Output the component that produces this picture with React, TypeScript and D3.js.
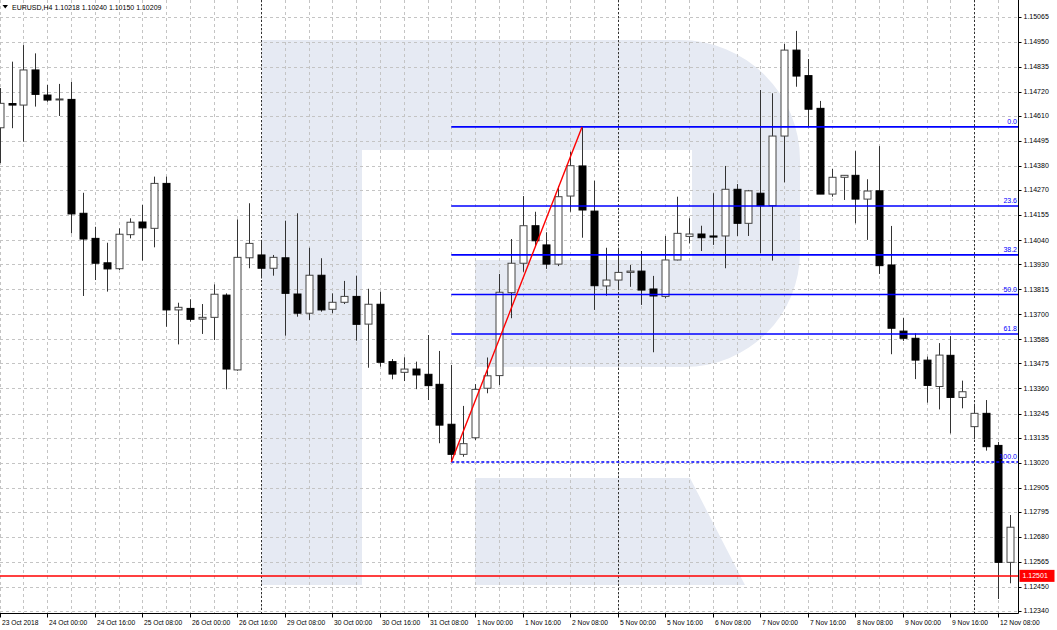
import React from 'react';
import * as d3 from 'd3';

const symbolTitle = 'EURUSD,H4  1.10218 1.10240 1.10150 1.10209';

const timeLabels = [
  '23 Oct 2018', '24 Oct 00:00', '24 Oct 16:00', '25 Oct 08:00', '26 Oct 00:00', '26 Oct 16:00',
  '29 Oct 08:00', '30 Oct 00:00', '30 Oct 16:00', '31 Oct 08:00', '1 Nov 00:00', '1 Nov 16:00',
  '2 Nov 08:00', '5 Nov 00:00', '5 Nov 16:00', '6 Nov 08:00', '7 Nov 00:00', '7 Nov 16:00',
  '8 Nov 08:00', '9 Nov 00:00', '9 Nov 16:00', '12 Nov 08:00',
];
const timeLabelBars = [0, 4, 8, 12, 16, 20, 24, 28, 32, 36, 40, 44, 48, 52, 56, 60, 64, 68, 72, 76, 80, 84];
const weekSeparatorBars = [22, 52, 82];

const priceTickLabels = [
  '1.15065', '1.14950', '1.14835', '1.14720', '1.14610', '1.14495', '1.14380', '1.14270', '1.14155',
  '1.14040', '1.13930', '1.13815', '1.13700', '1.13585', '1.13475', '1.13360', '1.13245', '1.13135',
  '1.13020', '1.12905', '1.12795', '1.12680', '1.12565', '1.12450', '1.12340',
];

const opens = [
  1.14555, 1.14666, 1.14659, 1.14820, 1.14705, 1.14685, 1.14685, 1.14163, 1.14048, 1.13936,
  1.13909, 1.14065, 1.14123, 1.14094, 1.14300, 1.13720, 1.13727, 1.13678, 1.13686, 1.13788,
  1.13445, 1.13959, 1.13972, 1.13911, 1.13959, 1.13793, 1.13705, 1.13879, 1.13723, 1.13755,
  1.13782, 1.13655, 1.13746, 1.13483, 1.13434, 1.13449, 1.13425, 1.13379, 1.13196, 1.13058,
  1.13134, 1.13361, 1.13419, 1.13799, 1.13934, 1.14106, 1.14018, 1.13930, 1.14242, 1.14380,
  1.14173, 1.13830, 1.13857, 1.13892, 1.13898, 1.13816, 1.13782, 1.13949, 1.14057, 1.14068,
  1.14059, 1.14059, 1.14273, 1.14117, 1.14255, 1.14198, 1.14517, 1.14911, 1.14794, 1.14644,
  1.14251, 1.14328, 1.14337, 1.14228, 1.14266, 1.13926, 1.13623, 1.13590, 1.13490, 1.13369,
  1.13512, 1.13319, 1.13185, 1.13246, 1.13099, 1.12563,
];
const highs = [
  1.14737, 1.14858, 1.14934, 1.14896, 1.14751, 1.14756, 1.14766, 1.14257, 1.14101, 1.14028,
  1.14094, 1.14140, 1.14201, 1.14331, 1.14331, 1.13753, 1.13769, 1.13747, 1.13837, 1.13796,
  1.14135, 1.14209, 1.14041, 1.13972, 1.14129, 1.14163, 1.14005, 1.13957, 1.13796, 1.13853,
  1.13877, 1.13817, 1.13804, 1.13495, 1.13503, 1.13483, 1.13605, 1.13532, 1.13468, 1.13280,
  1.13380, 1.13502, 1.13885, 1.14045, 1.14242, 1.14170, 1.14076, 1.14288, 1.14445, 1.14559,
  1.14312, 1.14005, 1.13995, 1.13926, 1.13990, 1.13876, 1.14059, 1.14239, 1.14140, 1.14106,
  1.14255, 1.14380, 1.14297, 1.14270, 1.14728, 1.14713, 1.14939, 1.14999, 1.14870, 1.14678,
  1.14366, 1.14337, 1.14448, 1.14319, 1.14471, 1.14105, 1.13684, 1.13613, 1.13506, 1.13568,
  1.13600, 1.13396, 1.13281, 1.13307, 1.13115, 1.12780,
];
const lows = [
  1.14393, 1.14553, 1.14491, 1.14652, 1.14674, 1.14609, 1.14071, 1.13784, 1.13857, 1.13804,
  1.13903, 1.14048, 1.13946, 1.14007, 1.13643, 1.13562, 1.13666, 1.13610, 1.13582, 1.13356,
  1.13441, 1.13911, 1.13865, 1.13877, 1.13602, 1.13689, 1.13674, 1.13712, 1.13705, 1.13747,
  1.13579, 1.13455, 1.13460, 1.13402, 1.13394, 1.13357, 1.13307, 1.13109, 1.13023, 1.13047,
  1.13124, 1.13338, 1.13376, 1.13682, 1.13895, 1.14010, 1.13908, 1.13921, 1.14170, 1.14051,
  1.13720, 1.13785, 1.13811, 1.13826, 1.13743, 1.13526, 1.13773, 1.13947, 1.14025, 1.13990,
  1.14018, 1.13911, 1.14059, 1.14059, 1.13980, 1.13946, 1.14305, 1.14743, 1.14560, 1.14251,
  1.14239, 1.14224, 1.14117, 1.14041, 1.13885, 1.13517, 1.13578, 1.13403, 1.13295, 1.13264,
  1.13154, 1.13269, 1.13128, 1.13075, 1.12395, 1.12467,
];
const closes = [
  1.14667, 1.14659, 1.14820, 1.14708, 1.14682, 1.14687, 1.14160, 1.14045, 1.13934, 1.13908,
  1.14067, 1.14122, 1.14096, 1.14300, 1.13720, 1.13732, 1.13677, 1.13686, 1.13792, 1.13449,
  1.13961, 1.14025, 1.13911, 1.13961, 1.13796, 1.13705, 1.13879, 1.13720, 1.13755, 1.13782,
  1.13654, 1.13746, 1.13480, 1.13426, 1.13449, 1.13422, 1.13373, 1.13192, 1.13058, 1.13107,
  1.13356, 1.13418, 1.13801, 1.13934, 1.14106, 1.14037, 1.13930, 1.14239, 1.14381, 1.14178,
  1.13831, 1.13857, 1.13892, 1.13898, 1.13811, 1.13784, 1.13949, 1.14071, 1.14068, 1.14051,
  1.14054, 1.14273, 1.14117, 1.14266, 1.14198, 1.14517, 1.14911, 1.14792, 1.14640, 1.14251,
  1.14328, 1.14337, 1.14228, 1.14265, 1.13923, 1.13636, 1.13590, 1.13490, 1.13374, 1.13513,
  1.13319, 1.13345, 1.13246, 1.13093, 1.12563, 1.12724,
];

const fibLevels = [0, 23.6, 38.2, 50, 61.8, 100];
const fibLevelLabels = ['0.0', '23.6', '38.2', '50.0', '61.8', '100.0'];
const fibHighPrice = 1.14559;
const fibLowPrice = 1.13023;
const fibLowBar = 38;
const fibHighBar = 49;
const horizontalLinePrice = 1.12501;
const horizontalLineLabel = '1.12501';

const FONT = '"Liberation Sans", Arial, sans-serif';

export default function App() {
  const W = 1057;
  const H = 630;
  const plotRight = 1018.5;
  const plotBottom = 613.5;

  const x = d3.scaleLinear().domain([0, 84]).range([-0.3, 998.0]);
  const y = d3.scaleLinear().domain([1.1234, 1.15065]).range([611, 16.5]);

  const bars = d3.range(opens.length).map((i) => ({
    i, o: opens[i], h: highs[i], l: lows[i], c: closes[i],
  }));
  const gridBars = d3.range(0, opens.length + 1, 2);
  const bodyW = 7;

  const fibPrice = (lvl: number) => fibHighPrice - (fibHighPrice - fibLowPrice) * (lvl / 100);

  const logo = 'M262 40 H362 V585 H262 Z ' +
    'M362 40 H680 A120 120 0 0 1 800 160 V252 A115 115 0 0 1 685 367 H475 V260 H692 V150 H362 Z ' +
    'M475 478 H690 L745 585 H475 Z';

  return (
    <svg width={W} height={H} style={{ position: 'absolute', left: 0, top: 0, background: '#fff' }}
      fontFamily={FONT}>
      <rect x={0} y={0} width={W} height={H} fill="#ffffff" />
      <defs>
        <clipPath id="plot">
          <rect x={0} y={0} width={plotRight} height={plotBottom} />
        </clipPath>
      </defs>
      <g clipPath="url(#plot)">
        <path d={logo} fill="#e6eaf3" />
        {priceTickLabels.map((t) => (
          <line key={'hg' + t} x1={0} x2={plotRight} y1={Math.round(y(+t)) + 0.5} y2={Math.round(y(+t)) + 0.5}
            stroke="#c4c4c4" strokeWidth={1} strokeDasharray="3,3" />
        ))}
        {gridBars.map((b) => (
          <line key={'vg' + b} x1={Math.round(x(b)) + 0.5} x2={Math.round(x(b)) + 0.5} y1={0} y2={plotBottom}
            stroke="#c4c4c4" strokeWidth={1} strokeDasharray="3,3" />
        ))}
        {weekSeparatorBars.map((b) => (
          <line key={'ws' + b} x1={Math.round(x(b)) + 0.5} x2={Math.round(x(b)) + 0.5} y1={0} y2={plotBottom}
            stroke="#333" strokeWidth={1} strokeDasharray="2,2" />
        ))}
        {bars.map((d) => {
          const cx = Math.round(x(d.i)) + 0.5;
          const bull = d.c >= d.o;
          const top = y(Math.max(d.o, d.c));
          const bot = y(Math.min(d.o, d.c));
          const hgt = Math.max(1, bot - top);
          return (
            <g key={'c' + d.i}>
              <line x1={cx} x2={cx} y1={y(d.h)} y2={y(d.l)} stroke="#333" strokeWidth={1} />
              <rect x={cx - bodyW / 2} y={top} width={bodyW} height={hgt}
                fill={bull ? '#ffffff' : '#000000'} stroke={bull ? '#444' : '#000'} strokeWidth={1} />
            </g>
          );
        })}
        {fibLevels.map((lvl, k) => {
          const yy = y(fibPrice(lvl));
          return (
            <g key={'fib' + lvl}>
              <line x1={x(fibLowBar)} x2={plotRight} y1={yy} y2={yy} stroke="#0000ff" strokeWidth={1.6}
                strokeDasharray={lvl === 100 ? '3,2' : undefined} />
              <text x={plotRight - 1.5} y={yy - 2.5} fontSize={7} fill="#0000ff" textAnchor="end">
                {fibLevelLabels[k]}
              </text>
            </g>
          );
        })}
        <line x1={x(fibLowBar)} y1={y(fibLowPrice)} x2={x(fibHighBar)} y2={y(fibHighPrice)}
          stroke="#ff0000" strokeWidth={1.4} />
        <line x1={0} x2={plotRight} y1={y(horizontalLinePrice)} y2={y(horizontalLinePrice)}
          stroke="#ff0000" strokeWidth={1.5} />
      </g>

      {/* axes */}
      <line x1={plotRight} x2={plotRight} y1={0} y2={plotBottom} stroke="#000" strokeWidth={1} />
      <line x1={0} x2={plotRight} y1={plotBottom} y2={plotBottom} stroke="#000" strokeWidth={1} />
      {priceTickLabels.map((t) => (
        <g key={'pt' + t}>
          <line x1={plotRight} x2={plotRight + 3} y1={Math.round(y(+t)) + 0.5} y2={Math.round(y(+t)) + 0.5}
            stroke="#000" strokeWidth={1} />
          <text x={plotRight + 5} y={y(+t)} dy="0.35em" fontSize={7} fill="#000">{t}</text>
        </g>
      ))}
      {timeLabels.map((t, k) => {
        const tx = Math.round(x(timeLabelBars[k])) + 0.5;
        return (
          <g key={'tl' + t}>
            <line x1={tx} x2={tx} y1={plotBottom} y2={plotBottom + 4} stroke="#000" strokeWidth={1} />
            <text x={tx + 1.5} y={624.5} fontSize={6.7} fill="#000">{t}</text>
          </g>
        );
      })}
      <rect x={plotRight + 1} y={y(horizontalLinePrice) - 6} width={35} height={12} fill="#ff0000" />
      <text x={plotRight + 4} y={y(horizontalLinePrice)} dy="0.35em" fontSize={7} fill="#fff">
        {horizontalLineLabel}
      </text>

      {/* title */}
      <path d="M2.5 5 L8 5 L5.25 8.5 Z" fill="#000" />
      <text x={12} y={10} fontSize={7} fill="#000">{symbolTitle}</text>
    </svg>
  );
}
